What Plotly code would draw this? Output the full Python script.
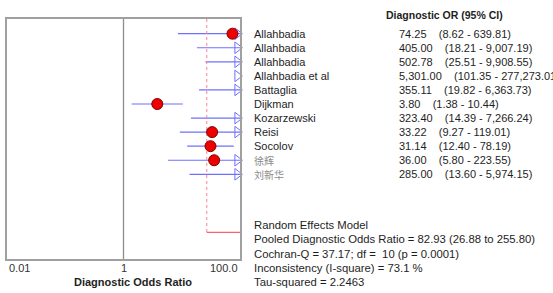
import math
import plotly.graph_objects as go

studies = ["Allahbadia", "Allahbadia", "Allahbadia", "Allahbadia et al", "Battaglia",
           "Dijkman", "Kozarzewski", "Reisi", "Socolov", "徐辉", "刘新华"]
dor = [74.25, 405.00, 502.78, 5301.00, 355.11, 3.80, 323.40, 33.22, 31.14, 36.00, 285.00]
ci_lo = [8.62, 18.21, 25.51, 101.35, 19.82, 1.38, 14.39, 9.27, 12.40, 5.80, 13.60]
ci_hi = [639.81, 9007.19, 9908.55, 277273.01, 6363.73, 10.44, 7266.24, 119.01, 78.19, 223.55, 5974.15]
value_texts = ["74.25", "405.00", "502.78", "5,301.00", "355.11", "3.80", "323.40",
               "33.22", "31.14", "36.00", "285.00"]
ci_texts = ["(8.62 - 639.81)", "(18.21 - 9,007.19)", "(25.51 - 9,908.55)",
            "(101.35 - 277,273.01)", "(19.82 - 6,363.73)", "(1.38 - 10.44)",
            "(14.39 - 7,266.24)", "(9.27 - 119.01)", "(12.40 - 78.19)",
            "(5.80 - 223.55)", "(13.60 - 5,974.15)"]
pooled = 82.93
pooled_lo = 26.88
pooled_hi = 255.80
stats_lines = ["Random Effects Model",
               "Pooled Diagnostic Odds Ratio = 82.93 (26.88 to 255.80)",
               "Cochran-Q = 37.17; df =  10 (p = 0.0001)",
               "Inconsistency (I-square) = 73.1 %",
               "Tau-squared = 2.2463"]
x_ticks = [0.01, 1, 100]
x_tick_labels = ["0.01", "1", "100.0"]

XMIN, XMAX = 0.01, 100.0
W, H = 553, 293
PX_L, PX_R, PX_T, PX_B = 7, 240, 19, 259
ROW_PX = 14.06
ROW1_PX = 33.7

def row_of(py):
    return 1 + (py - ROW1_PX) / ROW_PX

def xp(px):
    return px / W

def yp(py):
    return 1 - py / H

rows = list(range(1, len(studies) + 1))
summary_row = row_of(232.3)

BLUE = "#7070ff"
fig = go.Figure()

# CI lines
lx, ly = [], []
for r, lo, hi in zip(rows, ci_lo, ci_hi):
    if lo >= XMAX:
        continue
    lx += [max(lo, XMIN), min(hi, XMAX), None]
    ly += [r, r, None]
fig.add_trace(go.Scatter(x=lx, y=ly, mode="lines", line=dict(color=BLUE, width=1.2),
                         hoverinfo="skip", showlegend=False))

# arrows for CIs exceeding the axis
ax_x = 10 ** (2 - 2.6 / 58.25)
arr_rows = [r for r, hi in zip(rows, ci_hi) if hi > XMAX]
fig.add_trace(go.Scatter(x=[ax_x] * len(arr_rows), y=arr_rows, mode="markers",
                         marker=dict(symbol="triangle-right-open", size=10,
                                     color=BLUE, line=dict(color=BLUE, width=1)),
                         cliponaxis=False, hoverinfo="skip", showlegend=False))

# pooled lines
fig.add_trace(go.Scatter(x=[pooled_lo, pooled_lo], y=[row_of(PX_T), summary_row], mode="lines",
                         line=dict(color="#ff8090", width=1, dash="3px,3px"),
                         hoverinfo="skip", showlegend=False))
fig.add_trace(go.Scatter(x=[pooled_lo, min(pooled_hi, XMAX)], y=[summary_row, summary_row],
                         mode="lines", line=dict(color="#ff6070", width=1.3),
                         hoverinfo="skip", showlegend=False))

# point estimates
px_ = [d for d in dor if d <= XMAX]
py_ = [r for r, d in zip(rows, dor) if d <= XMAX]
fig.add_trace(go.Scatter(x=px_, y=py_, mode="markers",
                         marker=dict(size=11, color="#ee0000", line=dict(color="#800000", width=1)),
                         cliponaxis=False, hoverinfo="skip", showlegend=False))

# vertical line at 1
fig.add_shape(type="line", xref="x", yref="paper", x0=1, x1=1,
              y0=yp(PX_B), y1=yp(PX_T), line=dict(color="#8c8c8c", width=1.3))

ann = []
FONT = "Liberation Sans, Arial, sans-serif"
TC = "#1e1e1e"
NB = "\u00a0"
for r, s, v, c in zip(rows, studies, value_texts, ci_texts):
    is_cjk = any(ord(ch) > 0x2E80 for ch in s)
    ann.append(dict(x=xp(251.5), y=r, xref="paper", yref="y", text=s, showarrow=False,
                    xanchor="left", yanchor="middle",
                    font=dict(size=10 if is_cjk else 11, color="#8a8a8a" if is_cjk else TC,
                              family="Noto Sans CJK SC, " + FONT if is_cjk else FONT)))
    ann.append(dict(x=xp(396.5), y=r, xref="paper", yref="y",
                    text=v + NB * 4 + c, showarrow=False,
                    xanchor="left", yanchor="middle", font=dict(size=11, color=TC, family=FONT)))

ann.append(dict(x=xp(384), y=yp(15), xref="paper", yref="paper",
                text="<b>Diagnostic OR (95% CI)</b>", showarrow=False,
                xanchor="left", yanchor="middle", font=dict(size=10.5, color=TC, family=FONT)))

for i, t in enumerate(stats_lines):
    ann.append(dict(x=xp(251.5), y=yp(225 + i * 14.3), xref="paper", yref="paper",
                    text=t, showarrow=False, xanchor="left", yanchor="middle",
                    font=dict(size=11.3, color=TC, family=FONT)))

anchors = ["left", "center", "right"]
for v, lab, a in zip(x_ticks, x_tick_labels, anchors):
    ann.append(dict(x=math.log10(v), y=yp(268), xref="x", yref="paper", text=lab,
                    showarrow=False, xanchor=a, yanchor="middle",
                    font=dict(size=11, color="#333333", family=FONT)))

ann.append(dict(x=xp(133), y=yp(282), xref="paper", yref="paper",
                text="<b>Diagnostic Odds Ratio</b>", showarrow=False,
                xanchor="center", yanchor="middle", font=dict(size=11, color=TC, family=FONT)))

fig.update_layout(
    width=W, height=H, margin=dict(l=0, r=0, t=0, b=0),
    paper_bgcolor="white", plot_bgcolor="white",
    xaxis=dict(type="log", range=[math.log10(XMIN), math.log10(XMAX)],
               domain=[xp(PX_L), xp(PX_R)], showgrid=False, zeroline=False,
               showticklabels=False, ticks="", showline=True, mirror=True,
               linecolor="#a0a0a0", linewidth=1.5),
    yaxis=dict(range=[row_of(PX_B), row_of(PX_T)], domain=[yp(PX_B), yp(PX_T)],
               showgrid=False, zeroline=False, showticklabels=False, ticks="",
               showline=True, mirror=True, linecolor="#a0a0a0", linewidth=1.5),
    annotations=ann,
    showlegend=False,
)

fig.write_html("out.html", config={"displayModeBar": False},
               post_script="document.body.style.margin='0px';document.body.style.overflow='hidden';")
